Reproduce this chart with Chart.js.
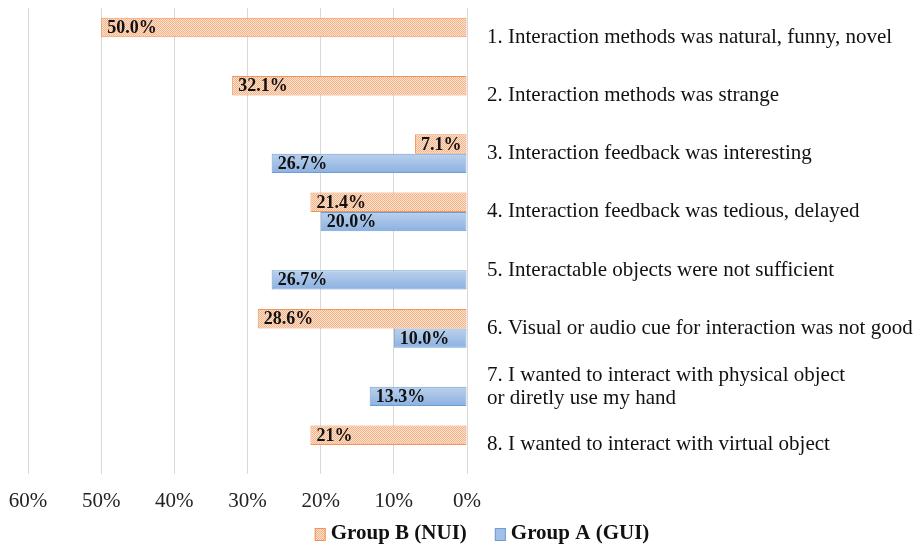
<!DOCTYPE html>
<html>
<head>
<meta charset="utf-8">
<script src="https://cdn.jsdelivr.net/npm/chart.js@4.4.1/dist/chart.umd.min.js"></script>
<style>
  html, body { margin: 0; padding: 0; background: #fff; }
  #wrap { width: 921px; height: 546px; }
</style>
</head>
<body>
<div id="wrap"><canvas id="chart"></canvas></div>
<script>
// categories (right side labels)
const categories = [
  '1. Interaction methods was natural, funny, novel',
  '2. Interaction methods was strange',
  '3. Interaction feedback was interesting',
  '4. Interaction feedback was tedious, delayed',
  '5. Interactable objects were not sufficient',
  '6. Visual or audio cue for interaction was not good',
  ['7. I wanted to interact with physical object', 'or diretly use my hand'],
  '8. I wanted to interact with virtual object'
];

// percentages
const groupB = [50.0, 32.1, 7.1, 21.4, null, 28.6, null, 21.4];
const groupA = [null, null, 26.7, 20.0, 26.7, 10.0, 13.3, null];

// bar label texts as printed on the chart
const labelsB = ['50.0%', '32.1%', '7.1%', '21.4%', '', '28.6%', '', '21%'];
const labelsA = ['', '', '26.7%', '20.0%', '26.7%', '10.0%', '13.3%', ''];

const xTicks = [0, 10, 20, 30, 40, 50, 60];

const SERIF = '"Liberation Serif", "Times New Roman", serif';
const CAT_PCT = 0.666;

// hatched orange fill
function makeHatch() {
  const c = document.createElement('canvas');
  c.width = 2; c.height = 2;
  const g = c.getContext('2d');
  g.fillStyle = '#fde3d0';
  g.fillRect(0, 0, 2, 2);
  g.fillStyle = '#f5b186';
  g.fillRect(0, 0, 1, 1);
  g.fillRect(1, 1, 1, 1);
  return g.createPattern(c, 'repeat');
}
const hatch = makeHatch();

// blue gradient, one per bar (blue bar sits in the lower half of the category)
function blueFill(ctx) {
  const chart = ctx.chart;
  const yS = chart.scales && chart.scales.y;
  if (ctx.dataIndex === undefined || !yS || !yS.height) return '#a3bfe4';
  const c = yS.getPixelForValue(ctx.dataIndex);
  const h = (yS.height / categories.length) * CAT_PCT / 2;
  const grad = chart.ctx.createLinearGradient(0, c, 0, c + h);
  grad.addColorStop(0, '#bcd1ec');
  grad.addColorStop(1, '#8bb1e1');
  return grad;
}

// draw value labels at the far (left) end of each bar
const barLabels = {
  id: 'barLabels',
  afterDatasetsDraw(chart) {
    const ctx = chart.ctx;
    const texts = [labelsB, labelsA];
    ctx.save();
    ctx.font = 'bold 18px ' + SERIF;
    ctx.fillStyle = '#111';
    ctx.textAlign = 'left';
    ctx.textBaseline = 'middle';
    chart.data.datasets.forEach((ds, i) => {
      chart.getDatasetMeta(i).data.forEach((el, j) => {
        if (ds.data[j] == null) return;
        ctx.fillText(texts[i][j], el.x + 6, el.y + 1);
      });
    });
    ctx.restore();
  }
};

// legend under the plot, drawn by hand so its spacing matches
const bottomLegend = {
  id: 'bottomLegend',
  afterDraw(chart) {
    const ctx = chart.ctx;
    const ds = chart.data.datasets;
    const box = 11, gap = 5, spacing = 28, cx = 482, y = 534;
    ctx.save();
    ctx.font = 'bold 21px ' + SERIF;
    const widths = ds.map(d => ctx.measureText(d.label).width);
    const total = widths.reduce((a, w) => a + box + gap + w, 0) + spacing * (ds.length - 1);
    let x = cx - total / 2;
    ds.forEach((d, i) => {
      ctx.fillStyle = i === 0 ? hatch : '#a3c0e6';
      ctx.fillRect(x, y - 6, box, 13);
      ctx.strokeStyle = d.borderColor;
      ctx.lineWidth = 1;
      ctx.strokeRect(x + 0.5, y - 5.5, box - 1, 12);
      x += box + gap;
      ctx.fillStyle = '#111';
      ctx.textAlign = 'left';
      ctx.textBaseline = 'middle';
      ctx.fillText(d.label, x, y);
      x += widths[i] + spacing;
    });
    ctx.restore();
  }
};

new Chart(document.getElementById('chart'), {
  type: 'bar',
  data: {
    labels: categories,
    datasets: [
      {
        label: 'Group B (NUI)',
        data: groupB,
        backgroundColor: hatch,
        borderColor: '#f0945a',
        borderWidth: 1,
        borderSkipped: false
      },
      {
        label: 'Group A (GUI)',
        data: groupA,
        backgroundColor: blueFill,
        borderColor: '#6f9ed6',
        borderWidth: 1,
        borderSkipped: false
      }
    ]
  },
  options: {
    indexAxis: 'y',
    responsive: true,
    maintainAspectRatio: false,
    animation: false,
    categoryPercentage: CAT_PCT,
    barPercentage: 1,
    layout: { padding: { left: 28, right: 0, top: 8, bottom: 31 } },
    scales: {
      x: {
        reverse: true,
        min: 0,
        max: 60,
        afterBuildTicks(axis) {
          axis.ticks = xTicks.map(v => ({ value: v }));
        },
        afterFit(scale) {
          scale.paddingLeft = 0;
          scale.paddingRight = 0;
          scale.height = 41;
        },
        grid: { color: '#d9d9d9', lineWidth: 1, drawTicks: false },
        border: { display: false },
        ticks: {
          padding: 15,
          color: '#222',
          font: { family: SERIF, size: 21 },
          callback: v => v + '%'
        }
      },
      y: {
        position: 'right',
        afterFit(scale) {
          scale.paddingTop = 0;
          scale.paddingBottom = 0;
          scale.width = 454;
        },
        grid: { display: false, drawTicks: false, tickLength: 0 },
        border: { display: false },
        ticks: {
          padding: 20,
          color: '#111',
          font: { family: SERIF, size: 21, lineHeight: 1.1 }
        }
      }
    },
    plugins: {
      tooltip: { enabled: false },
      legend: { display: false }
    }
  },
  plugins: [barLabels, bottomLegend]
});
</script>
</body>
</html>
